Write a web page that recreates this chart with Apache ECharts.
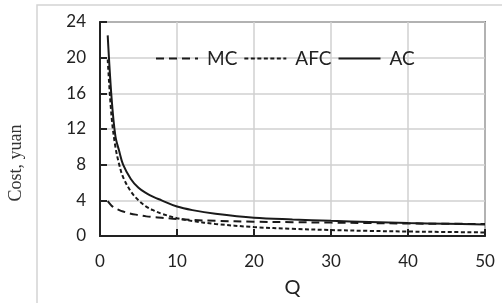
<!DOCTYPE html>
<html>
<head>
<meta charset="utf-8">
<script src="https://cdn.jsdelivr.net/npm/echarts@6/dist/echarts.min.js"></script>
<style>
  html, body { margin: 0; padding: 0; background: #fff; }
  #chart { width: 502px; height: 303px; }
</style>
</head>
<body>
<div id="chart"></div>
<script>
// Q values
const qs = [1, 1.5, 2, 2.5, 3, 4, 5, 6, 7, 8, 10, 12, 15, 20, 25, 30, 35, 40, 45, 50]
const mc = [3.9, 3.4, 3.1, 2.9, 2.75, 2.5, 2.35, 2.2, 2.12, 2.05, 1.9, 1.8, 1.7, 1.6, 1.55, 1.5, 1.45, 1.4, 1.37, 1.35]
const afc = [19.8, 13.4, 10, 8, 6.6, 5, 4, 3.3, 2.85, 2.5, 2, 1.68, 1.35, 1, 0.8, 0.67, 0.57, 0.5, 0.45, 0.4]
const ac = [22.5, 15.5, 11.2, 9.5, 8.0, 6.4, 5.4, 4.8, 4.35, 4.0, 3.3, 2.9, 2.5, 2.05, 1.85, 1.7, 1.57, 1.45, 1.38, 1.3]
const xTicks = { min: 0, max: 50, step: 10 }
const yTicks = { min: 0, max: 24, step: 4 }

const pairs = arr => arr.map((v, i) => [qs[i], v])

let myChart = echarts.init(document.getElementById('chart'))

let lineSer = function(name, data, dash, w) {
  return {
    name: name,
    type: 'line',
    symbol: 'none',
    smooth: 0.35,
    data: pairs(data),
    itemStyle: { color: '#1a1a1a' },
    lineStyle: { color: '#1a1a1a', width: w, type: dash }
  }
}

myChart.setOption({
  animation: false,
  graphic: [
    { // outer chart frame
      type: 'rect', silent: true,
      shape: { x: 37, y: 5, width: 480, height: 310 },
      style: { fill: 'none', stroke: '#d4d4d4', lineWidth: 1.5 }
    },
    {
      type: 'text', silent: true,
      x: 7, y: 163, rotation: Math.PI / 2,
      style: {
        text: 'Cost, yuan', fill: '#333',
        font: '18px "Liberation Serif"',
        align: 'center', verticalAlign: 'top'
      }
    }
  ],
  grid: {
    left: 100, right: 17, top: 22, bottom: 58,
    show: true, borderColor: '#222', borderWidth: 1.5
  },
  legend: {
    top: 44, left: 150,
    itemWidth: 42, itemHeight: 14, itemGap: 6,
    itemStyle: { opacity: 0 },
    textStyle: { fontFamily: 'Lato', fontSize: 19, color: '#222', padding: [0, 0, 0, 4] },
    data: ['MC', 'AFC', 'AC']
  },
  xAxis: {
    type: 'value',
    min: xTicks.min, max: xTicks.max, interval: xTicks.step,
    name: 'Q', nameLocation: 'middle', nameGap: 42,
    nameTextStyle: { fontFamily: 'Lato', fontSize: 20, color: '#222' },
    axisLine: { lineStyle: { color: '#222', width: 2 } },
    axisTick: { inside: true, length: 7, lineStyle: { color: '#222', width: 2 } },
    axisLabel: { fontFamily: 'Lato', fontSize: 17, color: '#222', margin: 17 },
    splitLine: { lineStyle: { color: '#d0d0d0', width: 1.5 } }
  },
  yAxis: {
    type: 'value',
    min: yTicks.min, max: yTicks.max, interval: yTicks.step,
    axisLine: { show: true, lineStyle: { color: '#222', width: 2 } },
    axisTick: { show: true, inside: true, length: 7, lineStyle: { color: '#222', width: 2 } },
    axisLabel: { fontFamily: 'Lato', fontSize: 17, color: '#222', margin: 14 },
    splitLine: { lineStyle: { color: '#d0d0d0', width: 1.5 } }
  },
  series: [
    lineSer('MC', mc, [8, 5], 2),
    lineSer('AFC', afc, [4, 2.5], 2),
    lineSer('AC', ac, 'solid', 2)
  ]
})
</script>
</body>
</html>
